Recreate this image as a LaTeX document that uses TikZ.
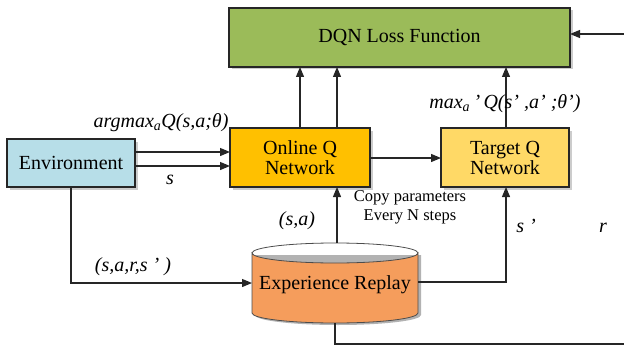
\documentclass[tikz,border=0pt]{standalone}
\usepackage{fontspec}
\setmainfont{Liberation Serif}
\usetikzlibrary{arrows.meta,shadows,calc}
\begin{document}
\begin{tikzpicture}[x=1pt,y=-1pt,
  every node/.style={inner sep=0pt, outer sep=0pt},
  blk/.style={draw=black!85, line width=1.1pt, drop shadow={opacity=0.4, shadow xshift=2.5pt, shadow yshift=-2.5pt}},
  flow/.style={draw=black!85, line width=1.2pt},
  tip/.style={-{Triangle[length=10pt,width=8pt]}},
  lbl/.style={font=\fontsize{20}{22}\selectfont\itshape},
  boxtxt/.style={font=\fontsize{20}{21}\selectfont, align=center}
]
\useasboundingbox (0,0) rectangle (624,345);
\clip (0,0) rectangle (624,345);
\definecolor{lossg}{HTML}{9BBB59}
\definecolor{onlineo}{HTML}{FFC000}
\definecolor{targety}{HTML}{FFD966}
\definecolor{envb}{HTML}{B7DEE8}
\definecolor{replayo}{HTML}{F59D5C}

% boxes
\node[blk, fill=lossg, minimum width=341pt, minimum height=59pt, boxtxt] (loss) at (399.5,37.5) {DQN Loss Function};
\node[blk, fill=onlineo, minimum width=140pt, minimum height=59pt, boxtxt] (online) at (300,157.5) {Online Q\\[-1pt]Network};
\node[blk, fill=targety, minimum width=128pt, minimum height=59pt, boxtxt] (target) at (505,157.5) {Target Q\\[-1pt]Network};
\node[blk, fill=envb, minimum width=128pt, minimum height=48pt, boxtxt] (env) at (71,163) {Environment};

% replay memory cylinder
\fill[black, opacity=0.3] (255,255) -- (255,315) arc[start angle=180,end angle=360,x radius=83pt,y radius=10pt] -- (421,255) -- cycle;
\filldraw[fill=replayo, draw=black!70, line width=0.8pt]
  (252,253) -- (252,313) arc[start angle=180,end angle=360,x radius=83pt,y radius=10pt]
  -- (418,253) arc[start angle=0,end angle=-180,x radius=83pt,y radius=10pt] -- cycle;
\draw[draw=black!70, line width=0.8pt] (252,253) arc[start angle=180,end angle=0,x radius=83pt,y radius=10pt];
\node[minimum width=166pt, minimum height=80pt] (replay) at (335,283) {};
\node[boxtxt] at (335,285) {Experience Replay};

% connectors into the loss
\draw[flow,tip] (online.north -| 300,0) -- (loss.south -| 300,0);
\draw[flow,tip] (online.north -| 337,0) -- (loss.south -| 337,0);
\draw[flow,tip] (target.north -| 506,0) -- (loss.south -| 506,0);

% environment to online network
\draw[flow,tip] (env.east |- 0,152) -- (online.west |- 0,152);
\draw[flow,tip] (env.east |- 0,166) -- (online.west |- 0,166);
\draw[flow,tip] (online.east |- 0,158) -- (target.west |- 0,158);

% environment to replay memory
\draw[flow,tip] (env.south) -- (71,283) -- (replay.west |- 0,283);

% replay memory to the networks
\draw[flow,tip] (replay.north -| 337,0) -- (online.south -| 337,0);
\draw[flow,tip] (replay.east |- 0,282) -- (506,282) -- (target.south -| 506,0);

% reward path back to the loss
\coordinate (rc) at (640,344);
\draw[flow,tip] (replay.south -| 335,0) -- (335,344) -- (rc) -- (640,34) -- (loss.east |- 0,34);

% labels
\node[lbl, anchor=base] at (161,127) {argmax\textsubscript{a}Q(s,a;θ)};
\node[lbl, anchor=base] at (170,184) {s};
\node[lbl, anchor=base] at (505,108) {max\textsubscript{a}\,’\,Q(s’ ,a’ ;θ’)};
\node[font=\fontsize{16.5}{19}\selectfont, align=center] at (410,207) {Copy parameters\\Every N steps};
\node[lbl, anchor=base] at (297,225) {(s,a)};
\node[lbl, anchor=base] at (526,232) {s ’};
\node[lbl, anchor=base] at (603,232) {r};
\node[lbl, anchor=base] at (133,271) {(s,a,r,s ’ )};
\end{tikzpicture}
\end{document}
